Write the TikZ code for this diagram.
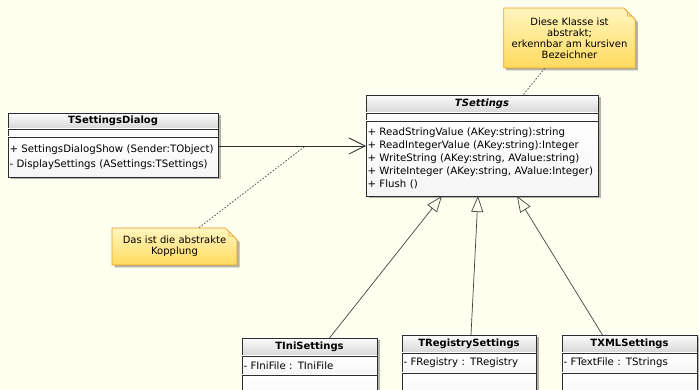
\documentclass[tikz,border=0pt]{standalone}
\usepackage{fontspec}
\setmainfont{DejaVu Sans}
\usetikzlibrary{shapes.misc, arrows.meta, positioning, shadows, calc}
\definecolor{canvasbg}{RGB}{255,255,240}
\definecolor{frameline}{RGB}{45,45,45}
\definecolor{headtop}{RGB}{252,252,252}
\definecolor{headbottom}{RGB}{214,214,214}
\definecolor{notetop}{RGB}{255,246,190}
\definecolor{notebottom}{RGB}{255,218,95}
\definecolor{noteline}{RGB}{232,160,40}

\tikzset{
  umlshadow/.style={drop shadow={shadow xshift=2.5pt, shadow yshift=-2.5pt, opacity=0.3, fill=black}},
  classhead/.style={draw=frameline, line width=0.8pt, outer sep=0pt, inner sep=0pt, top color=headtop, bottom color=headbottom, umlshadow, font=\fontsize{10}{11}\selectfont\bfseries},
  classpart/.style={draw=frameline, line width=0.8pt, outer sep=0pt, inner xsep=1.5pt, inner ysep=0pt, top color=white, bottom color=black!4, umlshadow, align=left, font=\fontsize{10.2}{13}\selectfont},
  notebox/.style={chamfered rectangle, chamfered rectangle corners=north east, chamfered rectangle xsep=8pt, draw=noteline, line width=0.8pt, top color=notetop, bottom color=notebottom, umlshadow, align=center, inner sep=0pt, font=\fontsize{10}{11}\selectfont,
    path picture={\filldraw[fill=notetop!50, draw=noteline, line width=0.6pt] ([xshift=-8pt]path picture bounding box.north east) -- ++(0,-8pt) -- ++(8pt,0) -- cycle;}},
  anchorline/.style={draw=black!65, line width=0.8pt, dash pattern=on 1.6pt off 1.6pt},
  assoc/.style={draw=frameline, line width=0.8pt, -{Straight Barb[length=16pt, width=16pt]}},
  genarrow/.style={draw=frameline!90, line width=0.7pt, -{Triangle[open, length=16pt, width=12pt]}}
}

\begin{document}
\begin{tikzpicture}[x=1pt, y=1pt]
    \useasboundingbox[fill=canvasbg] (0,0) rectangle (699,390);

    % Dialog class
    \node[classhead, minimum width=210pt, minimum height=16pt] (dlghead) at (113,269) {TSettingsDialog};
    \node[classpart, minimum width=210pt, minimum height=8pt, below=0pt of dlghead] (dlgattr) {};
    \node[classpart, text width=207pt, minimum height=40pt, below=0pt of dlgattr, font=\fontsize{10.2}{14.5}\selectfont] (dlgops) {+ SettingsDialogShow (Sender:TObject)\\- DisplaySettings (ASettings:TSettings)};

    % Abstract settings class
    \node[classhead, minimum width=232pt, minimum height=18pt] (sethead) at (482,286) {\textit{TSettings}};
    \node[classpart, minimum width=232pt, minimum height=8pt, below=0pt of sethead] (setattr) {};
    \node[classpart, text width=229pt, minimum height=75pt, below=0pt of setattr] (setops) {+ ReadStringValue (AKey:string):string\\+ ReadIntegerValue (AKey:string):Integer\\+ WriteString (AKey:string, AValue:string)\\+ WriteInteger (AKey:string, AValue:Integer)\\+ Flush ()};

    % Concrete classes
    \node[classhead, minimum width=135pt, minimum height=18pt] (inihead) at (309.5,43) {TIniSettings};
    \node[classpart, text width=132pt, minimum height=19pt, below=0pt of inihead] (iniattr) {- FIniFile : TIniFile};
    \node[classpart, minimum width=135pt, minimum height=30pt, below=0pt of iniattr] (iniops) {};

    \node[classhead, minimum width=134pt, minimum height=18pt] (reghead) at (469,46) {TRegistrySettings};
    \node[classpart, text width=131pt, minimum height=20pt, below=0pt of reghead] (regattr) {- FRegistry : TRegistry};
    \node[classpart, minimum width=134pt, minimum height=30pt, below=0pt of regattr] (regops) {};

    \node[classhead, minimum width=135pt, minimum height=18pt] (xmlhead) at (629.5,46) {TXMLSettings};
    \node[classpart, text width=132pt, minimum height=20pt, below=0pt of xmlhead] (xmlattr) {- FTextFile : TStrings};
    \node[classpart, minimum width=135pt, minimum height=30pt, below=0pt of xmlattr] (xmlops) {};

    % Notes
    \node[notebox, minimum width=127pt, minimum height=60pt] (absnote) at (569.5,352) {Diese Klasse ist\\abstrakt;\\erkennbar am kursiven\\Bezeichner};
    \node[notebox, minimum width=125pt, minimum height=37pt] (kopnote) at (174.5,143.5) {Das ist die abstrakte\\Kopplung};

    % Association
    \coordinate (assocstart) at ([yshift=-9pt]dlgops.north east);
    \draw[assoc] (assocstart) -- (assocstart -| setops.west);
    \coordinate (assocmid) at ($(assocstart)!0.59!(assocstart -| setops.west)$);

    % Note links
    \draw[anchorline] (kopnote) -- (assocmid);
    \draw[anchorline] (absnote) -- ([xshift=41pt]sethead.north);

    % Generalizations
    \draw[genarrow] ([xshift=20pt]inihead.north) -- ([xshift=-40pt]setops.south);
    \draw[genarrow] ([xshift=2pt]reghead.north) -- ([xshift=-4pt]setops.south);
    \draw[genarrow] ([xshift=-27pt]xmlhead.north) -- ([xshift=35pt]setops.south);
\end{tikzpicture}
\end{document}
